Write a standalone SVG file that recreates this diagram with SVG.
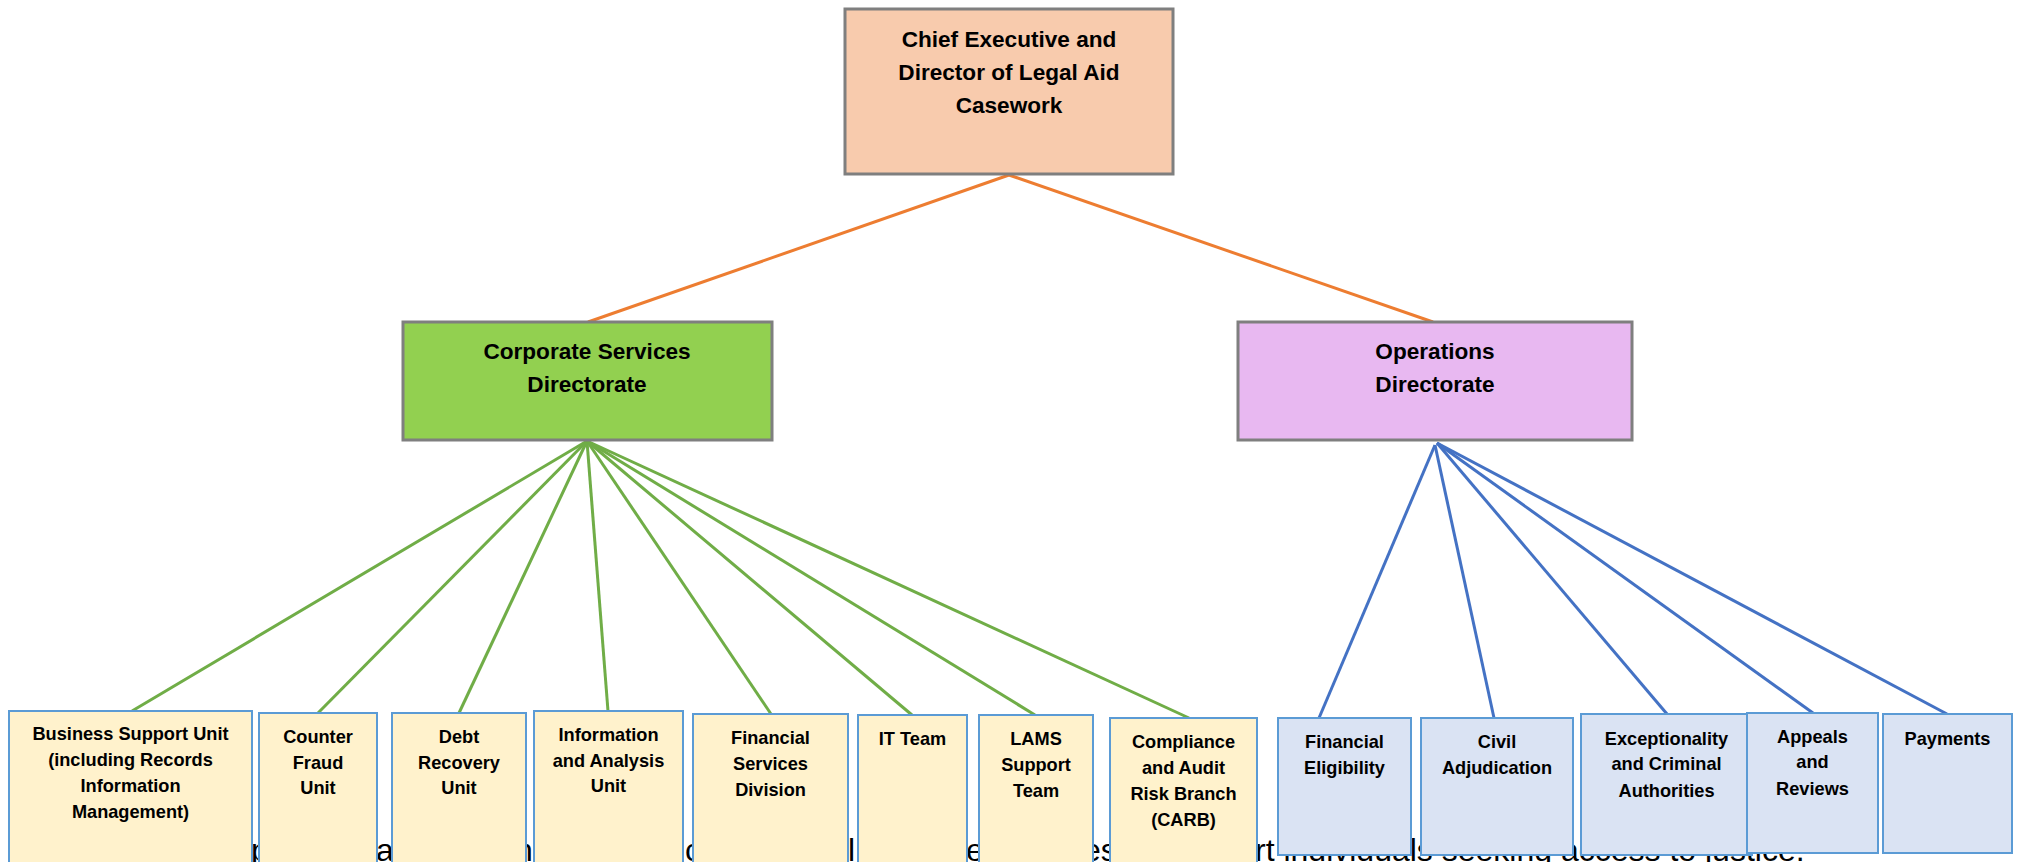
<svg xmlns="http://www.w3.org/2000/svg" width="2018" height="862" viewBox="0 0 2018 862">
<style>
.bg{font-family:"Liberation Sans",Arial,sans-serif;font-size:32px;fill:#000}
.t{font-family:"Liberation Sans",Arial,sans-serif;font-weight:bold;fill:#000;text-anchor:middle}
.big{font-size:22.6px}
.sm{font-size:18.2px}
.main{stroke:#7F7F7F;stroke-width:3}
.unit{stroke:#5B9BD5;stroke-width:2}
.y{fill:#FFF2CC}
.b{fill:#DAE3F3}
.og{stroke:#ED7D31;stroke-width:3;fill:none}
.gr{stroke:#70AD47;stroke-width:3;fill:none}
.bl{stroke:#4472C4;stroke-width:3;fill:none}
</style>
<rect width="2018" height="862" fill="#FFFFFF"/>
<g id="background-text">
<text class="bg" x="251" y="861">p</text>
<text class="bg" x="376" y="861">a</text>
<text class="bg" x="515" y="861">n</text>
<text class="bg" x="685" y="861">c</text>
<text class="bg" x="848" y="861">l</text>
<text class="bg" x="966" y="861">e</text>
<text class="bg" x="1083" y="861">es</text>
<text class="bg" x="1255" y="861">rt individuals seeking access to justice.</text>
</g>
<g id="connectors">
<line class="og" x1="1009" y1="175" x2="588" y2="322"/>
<line class="og" x1="1009" y1="175" x2="1433" y2="322"/>
<line class="gr" x1="587" y1="441" x2="132" y2="711"/>
<line class="gr" x1="587" y1="441" x2="318" y2="713"/>
<line class="gr" x1="587" y1="441" x2="459" y2="713"/>
<line class="gr" x1="587" y1="441" x2="608" y2="711"/>
<line class="gr" x1="587" y1="441" x2="771" y2="714"/>
<line class="gr" x1="587" y1="441" x2="912" y2="715"/>
<line class="gr" x1="587" y1="441" x2="1035" y2="715"/>
<line class="gr" x1="587" y1="441" x2="1189" y2="718"/>
<line class="bl" x1="1435" y1="445" x2="1319" y2="718"/>
<line class="bl" x1="1435" y1="445" x2="1494" y2="718"/>
<line class="bl" x1="1437" y1="443" x2="1667" y2="714"/>
<line class="bl" x1="1437" y1="443" x2="1813" y2="713"/>
<line class="bl" x1="1437" y1="443" x2="1947" y2="714"/>
</g>
<g id="chief-executive">
<rect class="main" x="845" y="9" width="328" height="165" fill="#F8CBAD"/>
<text class="t big" x="1009" y="47">Chief Executive and</text>
<text class="t big" x="1009" y="80">Director of Legal Aid</text>
<text class="t big" x="1009" y="113">Casework</text>
</g>
<g id="corporate-services">
<rect class="main" x="403" y="322" width="369" height="118" fill="#92D050"/>
<text class="t big" x="587" y="359">Corporate Services</text>
<text class="t big" x="587" y="392">Directorate</text>
</g>
<g id="operations">
<rect class="main" x="1238" y="322" width="394" height="118" fill="#E8B8F1"/>
<text class="t big" x="1435" y="359">Operations</text>
<text class="t big" x="1435" y="392">Directorate</text>
</g>
<g id="business-support">
<rect class="unit y" x="9" y="711" width="243" height="170"/>
<text class="t sm" x="130.5" y="740">Business Support Unit</text>
<text class="t sm" x="130.5" y="766">(including Records</text>
<text class="t sm" x="130.5" y="792">Information</text>
<text class="t sm" x="130.5" y="818">Management)</text>
</g>
<g id="counter-fraud">
<rect class="unit y" x="259" y="713" width="118" height="170"/>
<text class="t sm" x="318" y="743">Counter</text>
<text class="t sm" x="318" y="769">Fraud</text>
<text class="t sm" x="318" y="794">Unit</text>
</g>
<g id="debt-recovery">
<rect class="unit y" x="392" y="713" width="134" height="170"/>
<text class="t sm" x="459" y="743">Debt</text>
<text class="t sm" x="459" y="769">Recovery</text>
<text class="t sm" x="459" y="794">Unit</text>
</g>
<g id="information-analysis">
<rect class="unit y" x="534" y="711" width="149" height="170"/>
<text class="t sm" x="608.5" y="741">Information</text>
<text class="t sm" x="608.5" y="767">and Analysis</text>
<text class="t sm" x="608.5" y="792">Unit</text>
</g>
<g id="financial-services">
<rect class="unit y" x="693" y="714" width="155" height="170"/>
<text class="t sm" x="770.5" y="744">Financial</text>
<text class="t sm" x="770.5" y="770">Services</text>
<text class="t sm" x="770.5" y="796">Division</text>
</g>
<g id="it-team">
<rect class="unit y" x="858" y="715" width="109" height="170"/>
<text class="t sm" x="912.5" y="745">IT Team</text>
</g>
<g id="lams-support">
<rect class="unit y" x="979" y="715" width="114" height="170"/>
<text class="t sm" x="1036" y="745">LAMS</text>
<text class="t sm" x="1036" y="771">Support</text>
<text class="t sm" x="1036" y="797">Team</text>
</g>
<g id="carb">
<rect class="unit y" x="1110" y="718" width="147" height="170"/>
<text class="t sm" x="1183.5" y="748">Compliance</text>
<text class="t sm" x="1183.5" y="774">and Audit</text>
<text class="t sm" x="1183.5" y="800">Risk Branch</text>
<text class="t sm" x="1183.5" y="826">(CARB)</text>
</g>
<g id="financial-eligibility">
<rect class="unit b" x="1278" y="718" width="133" height="137"/>
<text class="t sm" x="1344.5" y="748">Financial</text>
<text class="t sm" x="1344.5" y="774">Eligibility</text>
</g>
<g id="civil-adjudication">
<rect class="unit b" x="1421" y="718" width="152" height="137"/>
<text class="t sm" x="1497" y="748">Civil</text>
<text class="t sm" x="1497" y="774">Adjudication</text>
</g>
<g id="exceptionality">
<rect class="unit b" x="1581" y="714" width="171" height="141"/>
<text class="t sm" x="1666.5" y="745">Exceptionality</text>
<text class="t sm" x="1666.5" y="770">and Criminal</text>
<text class="t sm" x="1666.5" y="797">Authorities</text>
</g>
<g id="appeals-reviews">
<rect class="unit b" x="1747" y="713" width="131" height="140"/>
<text class="t sm" x="1812.5" y="743">Appeals</text>
<text class="t sm" x="1812.5" y="768">and</text>
<text class="t sm" x="1812.5" y="795">Reviews</text>
</g>
<g id="payments">
<rect class="unit b" x="1883" y="714" width="129" height="139"/>
<text class="t sm" x="1947.5" y="745">Payments</text>
</g>
</svg>
